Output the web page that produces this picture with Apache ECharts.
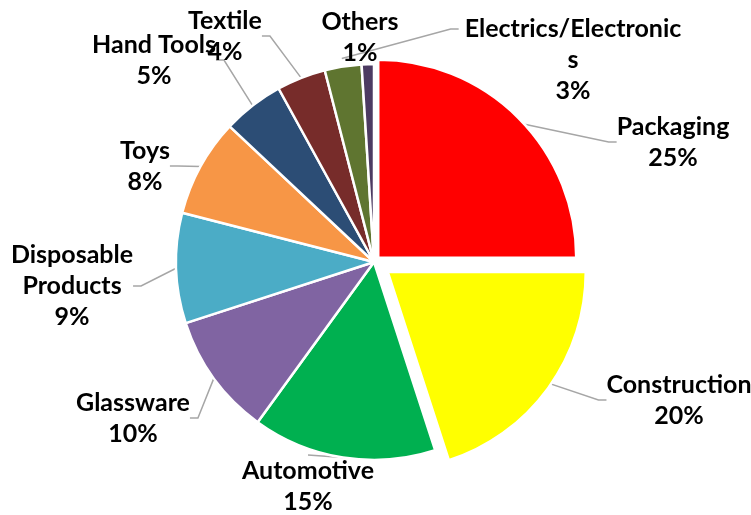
<!DOCTYPE html>
<html>
<head>
<meta charset="utf-8">
<script src="https://cdn.jsdelivr.net/npm/echarts@6/dist/echarts.min.js"></script>
<style>
html,body{margin:0;padding:0;background:#fff;}
#c{width:751px;height:515px;}
</style>
</head>
<body>
<div id="c"></div>
<script>
var categories = ['Packaging','Construction','Automotive','Glassware','Disposable Products','Toys','Hand Tools','Textile','Electrics/Electronics','Others'];
var labelTexts = ['Packaging','Construction','Automotive','Glassware','Disposable\nProducts','Toys','Hand Tools','Textile','Electrics/Electronic\ns','Others'];
var values = [25,20,15,10,9,8,5,4,3,1];
var colors = ['#FF0000','#FFFF00','#00B050','#8064A2','#4BACC6','#F79646','#2C4D75','#772C2A','#5F7530','#4D3B62'];
// styling: explosion distance of each slice (px)
var explode = [6,17,0,0,0,0,0,0,0,0];
// label block centres (layout only)
var labelAnchors = [[673,142],[679,400],[308,486],[133,418],[72,286],[145,166],[154,60],[225,36],[573,60],[360,37]];
// labels whose leader line attaches to the first text line (Excel style)
var firstLineLeader = {8:true};

var CX = 374, CY = 262, R = 198, LH = 31;
var total = values.reduce(function(a,b){return a+b;},0);
var TRANSPARENT = {color:'rgba(0,0,0,0)',borderWidth:0};
var mids = [];
(function(){ var acc=0; values.forEach(function(v){ mids.push((acc+v/2)/total*2*Math.PI); acc+=v; }); })();

var series = [{
  type:'pie',
  center:[CX,CY],
  radius:R,
  startAngle:90,
  clockwise:true,
  avoidLabelOverlap:false,
  silent:true,
  itemStyle:{borderColor:'#fff',borderWidth:2.5},
  label:{
    show:true,
    position:'outside',
    fontFamily:'Lato',
    fontWeight:'bold',
    fontSize:25,
    lineHeight:LH,
    color:'#000',
    formatter:function(p){
      return labelTexts[p.dataIndex] + '\n' + Math.round(values[p.dataIndex]/total*100) + '%';
    }
  },
  labelLine:{show:true,length:8,length2:8,lineStyle:{color:'#a6a6a6',width:1.5}},
  labelLayout:function(p){
    var i = p.dataIndex, a = labelAnchors[i];
    var out = {x:a[0],y:a[1],align:'center',verticalAlign:'middle'};
    if (firstLineLeader[i]) {
      var w = p.labelRect.width, h = p.labelRect.height;
      var left = a[0] - w/2, fy = a[1] - h/2 + LH/2;
      var m = mids[i], r = R + 8;
      out.labelLinePoints = [
        [CX + r*Math.sin(m), CY - r*Math.cos(m)],
        [left - 14, fy],
        [left - 6, fy]
      ];
    }
    return out;
  },
  data:categories.map(function(c,i){
    return {name:c,value:values[i],itemStyle: explode[i]>0 ? TRANSPARENT : {color:colors[i]}};
  })
}];

values.forEach(function(v,k){
  if (!(explode[k] > 0)) return;
  var ox = explode[k]*Math.sin(mids[k]), oy = -explode[k]*Math.cos(mids[k]);
  series.push({
    type:'pie',
    center:[CX+ox,CY+oy],
    radius:R,
    startAngle:90,
    clockwise:true,
    silent:true,
    itemStyle:{borderColor:'#fff',borderWidth:2.5},
    label:{show:false},
    labelLine:{show:false},
    data:categories.map(function(c,i){
      return {name:c,value:values[i],itemStyle: i===k ? {color:colors[i]} : TRANSPARENT};
    })
  });
});

var chart = echarts.init(document.getElementById('c'), null, {renderer:'canvas'});
chart.setOption({animation:false, series:series});
</script>
</body>
</html>
